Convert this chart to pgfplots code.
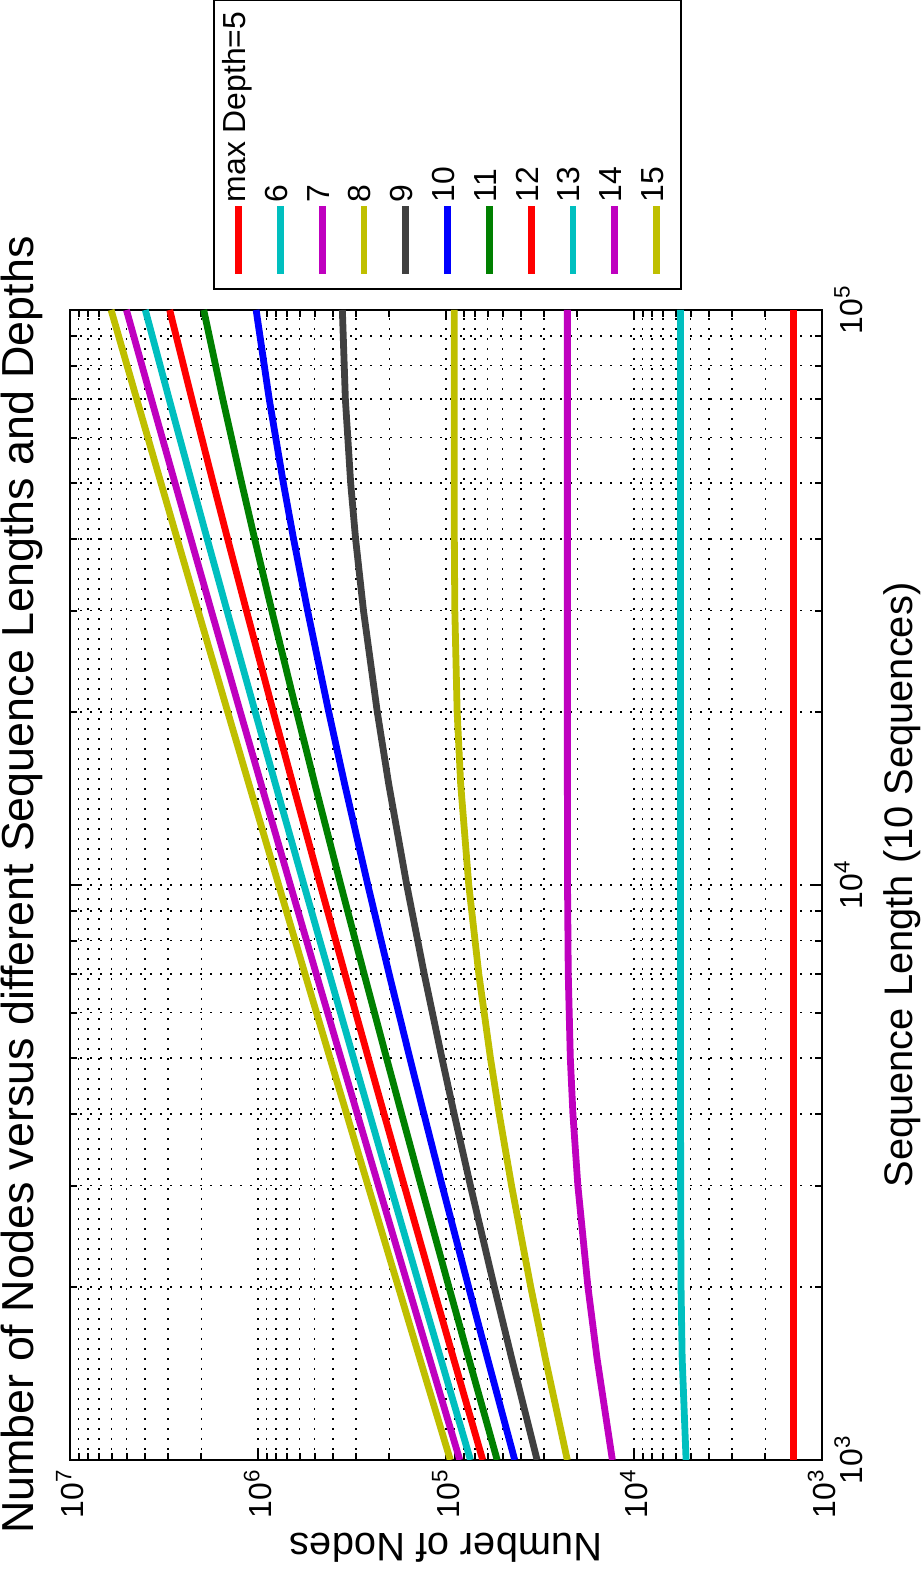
\documentclass[border=0pt]{standalone}
\usepackage{pgfplots}
\pgfplotsset{compat=1.18}
\usepackage{fontspec}
\setmainfont{Liberation Sans}
\definecolor{cR}{rgb}{1,0,0}
\definecolor{cC}{rgb}{0,0.75,0.75}
\definecolor{cM}{rgb}{0.75,0,0.75}
\definecolor{cY}{rgb}{0.75,0.75,0}
\definecolor{cK}{rgb}{0.25,0.25,0.25}
\definecolor{cB}{rgb}{0,0,1}
\definecolor{cG}{rgb}{0,0.5,0}
\begin{document}
\rotatebox{90}{%
\begin{tikzpicture}
\useasboundingbox (-55.5bp,-50.5bp) rectangle (730bp,411bp);
\begin{axis}[
  at={(0,0)}, anchor=south west,
  scale only axis, width=575bp, height=376bp,
  xmode=log, ymode=log,
  xmin=1000, xmax=100000, ymin=1000, ymax=10000000,
  xtick={1000,10000,100000},
  xticklabels={10\textsuperscript{3},10\textsuperscript{4},10\textsuperscript{5}},
  ytick={1000,10000,100000,1000000,10000000},
  yticklabels={10\textsuperscript{3},10\textsuperscript{4},10\textsuperscript{5},10\textsuperscript{6},10\textsuperscript{7}},
  minor xtick={2000,3000,4000,5000,6000,7000,8000,9000,20000,30000,40000,50000,60000,70000,80000,90000},
  minor ytick={2000,3000,4000,5000,6000,7000,8000,9000,20000,30000,40000,50000,60000,70000,80000,90000,200000,300000,400000,500000,600000,700000,800000,900000,2000000,3000000,4000000,5000000,6000000,7000000,8000000,9000000},
  grid=both,
  major grid style={black, line width=0.8bp, dash pattern=on 0.8bp off 4.2bp},
  minor grid style={black, line width=0.8bp, dash pattern=on 0.8bp off 4.2bp},
  axis line style={black, line width=1bp},
  tick style={black, line width=1bp},
  major tick length=5bp, minor tick length=3.5bp,
  tick align=inside,
  tick label style={font=\fontsize{16}{19}\selectfont},
  xticklabel style={anchor=north, inner sep=0pt, yshift=-6bp},
  yticklabel style={anchor=east, inner sep=0pt, xshift=-4.5bp},
  xlabel={Sequence Length (10 Sequences)},
  ylabel={Number of Nodes},
  title={Number of Nodes versus different Sequence Lengths and Depths},
  label style={font=\fontsize{20}{24}\selectfont},
  xlabel style={at={(axis description cs:0.5,-0.106)}, anchor=center},
  ylabel style={at={(axis description cs:-0.0765,0.5)}, anchor=center},
  title style={at={(axis description cs:0.5,1.0484)}, anchor=center, yshift=0pt, font=\fontsize{22.5}{27}\selectfont},
  legend style={at={(axis description cs:1.01739,0.80984)}, anchor=north west,
    draw=black, line width=1bp, fill=white, inner xsep=6bp, inner ysep=4.8bp,
    font=\fontsize{16}{19}\selectfont, row sep=5.9bp,
    nodes={inner sep=0bp, text height=11bp, text depth=4bp}, cells={anchor=west}},
  legend image code/.code={\path (0bp,0bp) -- (34bp,0bp); \draw[#1, line width=3.2bp] (0bp,0bp) -- (30.5bp,0bp);},
  every axis plot/.append style={line width=3.4bp, no markers},
]
\addplot[cR] coordinates {(1000,1413) (1500,1413) (2000,1413) (3000,1413) (4000,1413) (5000,1413) (7000,1413) (10000,1413) (15000,1413) (20000,1413) (30000,1413) (40000,1413) (50000,1413) (70000,1413) (100000,1413)};
\addplot[cC] coordinates {(1000,5283) (1500,5543) (2000,5620) (3000,5649) (4000,5652) (5000,5652) (7000,5652) (10000,5652) (15000,5652) (20000,5652) (30000,5652) (40000,5652) (50000,5652) (70000,5652) (100000,5652)};
\addplot[cM] coordinates {(1000,13030) (1500,15710) (2000,17580) (3000,19890) (4000,21130) (5000,21810) (7000,22370) (10000,22570) (15000,22610) (20000,22610) (30000,22610) (40000,22610) (50000,22610) (70000,22610) (100000,22610)};
\addplot[cY] coordinates {(1000,22630) (1500,29590) (2000,35420) (3000,44800) (4000,52120) (5000,58010) (7000,66890) (10000,75660) (15000,83560) (20000,87230) (30000,89740) (40000,90290) (50000,90410) (70000,90440) (100000,90440)};
\addplot[cK] coordinates {(1000,32780) (1500,44680) (2000,55350) (3000,74140) (4000,90520) (5000,105100) (7000,130500) (10000,161700) (15000,201800) (20000,232000) (30000,274700) (40000,302600) (50000,321400) (70000,343000) (100000,355800)};
\addplot[cB] coordinates {(1000,43090) (1500,60090) (2000,75850) (3000,104800) (4000,131100) (5000,155700) (7000,200600) (10000,260400) (15000,346400) (20000,420500) (30000,544700) (40000,646900) (50000,733000) (70000,871500) (100000,1023000)};
\addplot[cG] coordinates {(1000,53420) (1500,75590) (2000,96500) (3000,135700) (4000,172300) (5000,207100) (7000,272400) (10000,362700) (15000,498900) (20000,622600) (30000,844400) (40000,1042000) (50000,1221000) (70000,1539000) (100000,1944000)};
\addplot[cR] coordinates {(1000,63770) (1500,91110) (2000,117200) (3000,166700) (4000,213700) (5000,258800) (7000,344700) (10000,465900) (15000,653500) (20000,828400) (30000,1152000) (40000,1451000) (50000,1731000) (70000,2248000) (100000,2949000)};
\addplot[cC] coordinates {(1000,74120) (1500,106600) (2000,137900) (3000,197800) (4000,255100) (5000,310500) (7000,417100) (10000,569300) (15000,808600) (20000,1035000) (30000,1462000) (40000,1864000) (50000,2246000) (70000,2969000) (100000,3976000)};
\addplot[cM] coordinates {(1000,84470) (1500,122200) (2000,158600) (3000,228800) (4000,296500) (5000,362200) (7000,489600) (10000,672800) (15000,963800) (20000,1242000) (30000,1772000) (40000,2277000) (50000,2763000) (70000,3693000) (100000,5009000)};
\addplot[cY] coordinates {(1000,94820) (1500,137700) (2000,179300) (3000,259900) (4000,337900) (5000,414000) (7000,562000) (10000,776300) (15000,1119000) (20000,1449000) (30000,2083000) (40000,2691000) (50000,3281000) (70000,4417000) (100000,6043000)};
\legend{max Depth=5,6,7,8,9,10,11,12,13,14,15}
\end{axis}
\end{tikzpicture}}
\end{document}
